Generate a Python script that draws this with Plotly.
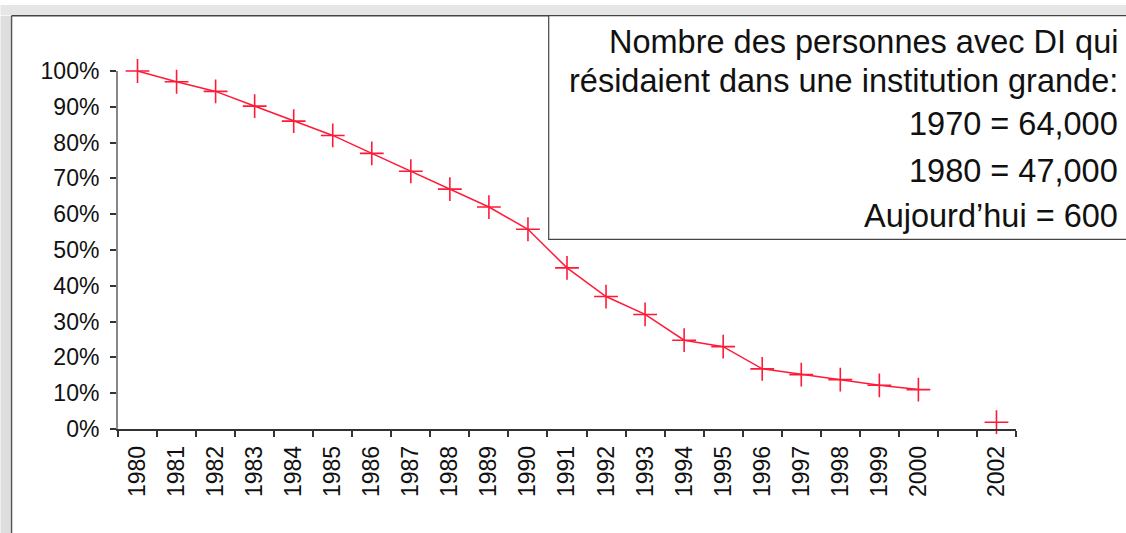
import plotly.graph_objects as go

# ---- data ----
years = ["1980", "1981", "1982", "1983", "1984", "1985", "1986", "1987", "1988", "1989",
         "1990", "1991", "1992", "1993", "1994", "1995", "1996", "1997", "1998", "1999",
         "2000", "2001", "2002"]
year_labels = ["1980", "1981", "1982", "1983", "1984", "1985", "1986", "1987", "1988", "1989",
               "1990", "1991", "1992", "1993", "1994", "1995", "1996", "1997", "1998", "1999",
               "2000", "", "2002"]
share_pct = [100, 97, 94.3, 90.2, 86, 82, 77, 72, 67, 62,
             55.8, 45, 37, 32, 24.8, 23, 16.8, 15.2, 13.8, 12.2,
             11, None, 1.9]
y_ticks = [0, 10, 20, 30, 40, 50, 60, 70, 80, 90, 100]
y_tick_labels = ["0%", "10%", "20%", "30%", "40%", "50%", "60%", "70%", "80%", "90%", "100%"]
box_lines = ["Nombre des personnes avec DI qui",
             "résidaient dans une institution grande:",
             "1970 = 64,000",
             "1980 = 47,000",
             "Aujourd\u2019hui = 600"]

# ---- layout geometry (pixels) ----
W, H = 1126, 533
PL, PR, PT, PB = 117.5, 1015.7, 71, 429
FONT = "Liberation Sans, Arial, Helvetica, sans-serif"
RED = "#ff1a38"

def px_x(px):
    return (px - PL) / (PR - PL)

def px_y(py):
    return (PB - py) / (PB - PT)

fig = go.Figure()
fig.add_trace(go.Scatter(
    x=years, y=share_pct, mode="lines+markers",
    line=dict(color=RED, width=1.5),
    marker=dict(symbol="cross-thin", size=17, line=dict(color=RED, width=1.6)),
    connectgaps=False, cliponaxis=False, showlegend=False,
))

shapes = [
    # left frame strip
    dict(type="rect", xref="paper", yref="paper", x0=px_x(0), x1=px_x(10), y0=px_y(H + 5), y1=px_y(15.7),
         fillcolor="#dedede", line=dict(width=0), layer="below"),
    dict(type="line", xref="paper", yref="paper", x0=px_x(11), x1=px_x(11), y0=px_y(H + 5), y1=px_y(15.7),
         line=dict(color="#555555", width=1.5)),
    # top frame strip
    dict(type="rect", xref="paper", yref="paper", x0=px_x(0), x1=px_x(W + 5), y0=px_y(15), y1=px_y(5),
         fillcolor="#e6e6e6", line=dict(width=0), layer="below"),
    dict(type="line", xref="paper", yref="paper", x0=px_x(11), x1=px_x(W + 5), y0=px_y(15.7), y1=px_y(15.7),
         line=dict(color="#444444", width=1.5)),
    # text box
    dict(type="rect", xref="paper", yref="paper", x0=px_x(548.3), x1=px_x(W + 20), y0=px_y(239.3), y1=px_y(15.7),
         fillcolor="white", line=dict(color="#444444", width=1.2)),
]

centers = [42.0, 80.5, 124.0, 170.5, 216.5]
annotations = []
for txt, cy in zip(box_lines, centers):
    annotations.append(dict(
        text=txt, xref="paper", yref="paper", x=px_x(1120), y=px_y(cy),
        xanchor="right", yanchor="middle", showarrow=False,
        font=dict(family=FONT, size=32.5, color="#111111"),
    ))

fig.update_layout(
    width=W, height=H,
    margin=dict(l=PL, r=W - PR, t=PT, b=H - PB, pad=0),
    paper_bgcolor="white", plot_bgcolor="white",
    shapes=shapes, annotations=annotations,
    xaxis=dict(
        type="category", categoryorder="array", categoryarray=years,
        tickmode="array", tickvals=years, ticktext=year_labels,
        tickson="boundaries", ticks="outside", ticklen=6, tickwidth=1.5, tickcolor="#333333",
        tickangle=-90, tickfont=dict(family=FONT, size=23, color="#111111"),
        showline=True, linecolor="#333333", linewidth=1.5,
        showgrid=False, zeroline=False, range=[-0.5, len(years) - 0.5],
        ticklabelstandoff=6,
    ),
    yaxis=dict(
        range=[0, 100], tickmode="array", tickvals=y_ticks, ticktext=y_tick_labels,
        ticks="outside", ticklen=6, tickwidth=1.5, tickcolor="#333333",
        tickfont=dict(family=FONT, size=23, color="#111111"),
        showline=True, linecolor="#888888", linewidth=2,
        showgrid=False, zeroline=False, ticklabelstandoff=6,
    ),
)

fig.write_html(
    "out.html",
    config={"displayModeBar": False},
    post_script="document.body.style.margin='0px';document.body.style.overflow='hidden';"
                "document.documentElement.style.overflow='hidden';",
)
